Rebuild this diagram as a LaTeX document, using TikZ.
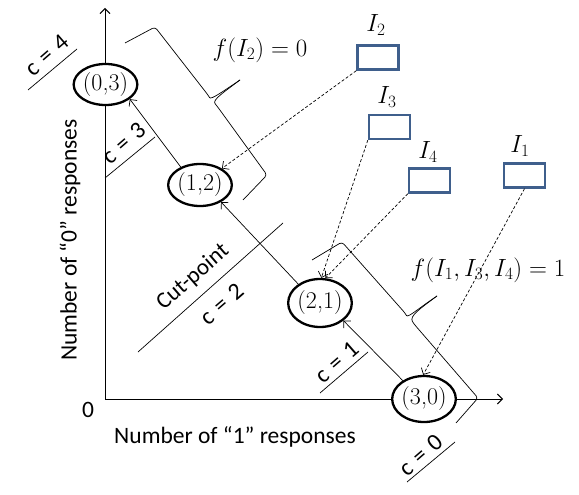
\documentclass[tikz,border=0pt]{standalone}
\usepackage{fontspec}
\newfontfamily\carlito{Carlito}
\usetikzlibrary{arrows.meta,shapes.geometric}
\definecolor{boxblue}{RGB}{63,95,140}
\newcommand{\ceq}[1]{c\hspace{0.32em}=\hspace{0.32em}#1}
\begin{document}
\begin{tikzpicture}[x=1pt,y=-1pt,
  state/.style={ellipse, draw, line width=2.3pt, fill=white, minimum width=62pt, inner sep=0pt, font=\fontsize{24}{26}\selectfont},
  ibox/.style={draw=boxblue, line width=2.4pt, fill=white, minimum width=41pt, minimum height=24pt, inner sep=0pt},
  arr/.style={-{Straight Barb[length=5pt,width=10pt]}, line width=0.7pt},
  darr/.style={arr, dash pattern=on 3pt off 2pt},
  clab/.style={font=\carlito\fontsize{24}{26}\selectfont, rotate=41, inner sep=0pt},
  thinl/.style={line width=0.7pt},
  mlab/.style={font=\fontsize{23}{25}\selectfont, inner sep=0pt},
  axlab/.style={font=\carlito\fontsize{23.5}{25}\selectfont, inner sep=0pt}]
\useasboundingbox (0,0) rectangle (579,495);
% axes
\coordinate (O) at (105,399);
\coordinate (ytip) at (105,8);
\coordinate (xtip) at (503,399);
\draw[arr, line width=0.9pt] (O) -- (ytip);
\draw[arr, line width=0.9pt] (O) -- (xtip);
\node[axlab] (zero) at (88,410) {0};
\node[axlab] (xlab) at (235,437) {Number of “1” responses};
\node[axlab, rotate=90] (ylab) at (70,240) {Number of “0” responses};
% c lines
\draw[thinl] (28,90) -- (77,49);
\draw[thinl] (105,178) -- (155,137);
\draw[thinl] (138,352) -- (283,223);
\draw[thinl] (320,393) -- (368,352);
\draw[thinl] (407,482) -- (455,442);
\node[clab] (c4) at (47,55) {\ceq{4}};
\node[clab] (c3) at (124,143) {\ceq{3}};
\node[clab, font=\carlito\fontsize{23}{25}\selectfont] (cutp) at (193,277) {Cut-point};
\node[clab] (c2) at (222,304) {\ceq{2}};
\node[clab] (c1) at (337,362) {\ceq{1}};
\node[clab] (c0) at (421,455) {\ceq{0}};
% braces
\draw[thinl, rounded corners=3pt] (125,43) -- (155,27) -- (208,95) .. controls (211,100) and (222,92) .. (240,80);
\draw[thinl, rounded corners=3pt] (240,80) .. controls (224,92) and (212,100) .. (217,106) -- (267,175) -- (243,200);
\draw[thinl, rounded corners=3pt] (312,260) -- (342,242) -- (405,313) .. controls (408,318) and (419,308) .. (437,296);
\draw[thinl, rounded corners=3pt] (437,296) .. controls (421,308) and (409,316) .. (414,324) -- (478,398) -- (456,423);
% states
\node[state, minimum height=41pt] (n03) at (105.5,84.5) {(0,3)};
\node[state, minimum height=42pt] (n12) at (200,185) {(1,2)};
\node[state, minimum height=48pt] (n21) at (320,303) {(2,1)};
\node[state, minimum height=46pt] (n30) at (424,399) {(3,0)};
\draw[arr] (n30.139) -- (n21.-37);
\draw[arr] (n21.139) -- (n12.-39);
\draw[arr] (n12.137) -- (n03.-31);
% items
\node[ibox] (b2) at (378,57.5) {};
\node[ibox] (b3) at (389.5,127) {};
\node[ibox] (b4) at (429.5,180.5) {};
\node[ibox] (b1) at (524.5,175.5) {};
\node[mlab] (l2) at (376,25) {$I_2$};
\node[mlab] (l3) at (387,97) {$I_3$};
\node[mlab] (l4) at (428,152) {$I_4$};
\node[mlab] (l1) at (520,146) {$I_1$};
\draw[darr] (b2.south west) -- (n12.37);
\draw[darr] (b3.south west) -- (n21.87);
\draw[darr] (b4.south west) -- (n21.78);
\draw[darr] (b1.south) -- (n30.92);
\node[mlab] (f2) at (260,50) {$f(I_2) = 0$};
\node[mlab] (f1) at (488,270) {$f(I_1, I_3, I_4) = 1$};
\end{tikzpicture}
\end{document}
